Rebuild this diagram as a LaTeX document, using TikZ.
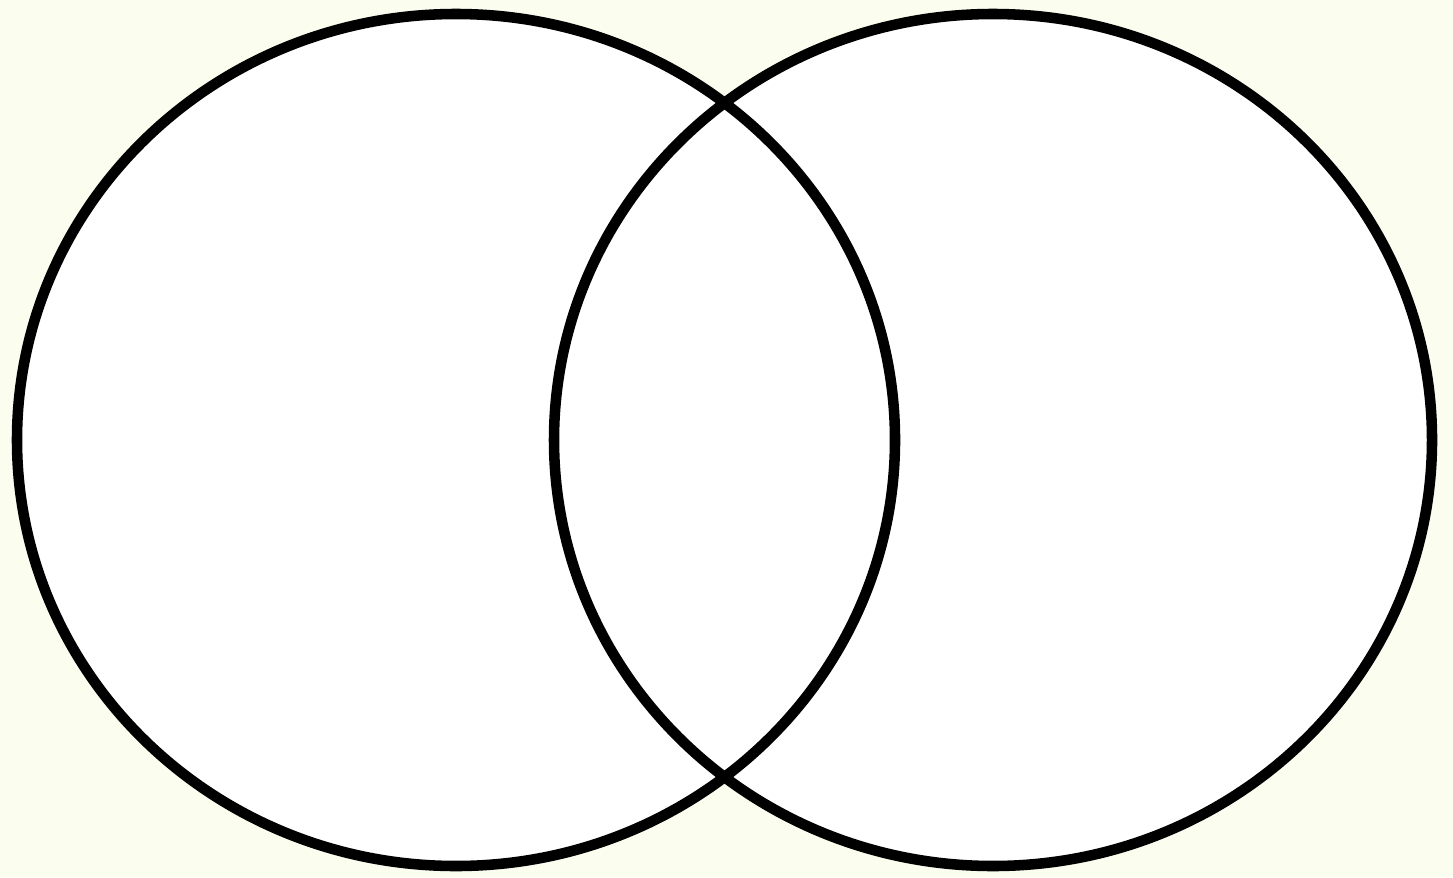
\documentclass[tikz,border=0pt]{standalone}
\usepackage{xcolor}
\usetikzlibrary{shapes.geometric,backgrounds}
\definecolor{cream}{RGB}{251,253,239}
\tikzset{
  setblk/.style={ellipse,draw=black,line width=3pt,minimum width=8.78cm,minimum height=8.52cm,inner sep=0pt},
  setfill/.style={fill=white}
}

\begin{document}
\begin{tikzpicture}
  \useasboundingbox (0,0) rectangle (14.53,8.77);

  \node[setblk] (setA) at (4.56,4.37) {};
  \node[setblk] (setB) at (9.93,4.37) {};

  % paper and white set interiors
  \begin{scope}[on background layer]
    \fill[cream] (0,0) rectangle (14.53,8.77);
    \fill[setfill] (setA.center) ellipse [x radius=4.39cm, y radius=4.26cm];
    \fill[setfill] (setB.center) ellipse [x radius=4.39cm, y radius=4.26cm];
  \end{scope}
\end{tikzpicture}
\end{document}
